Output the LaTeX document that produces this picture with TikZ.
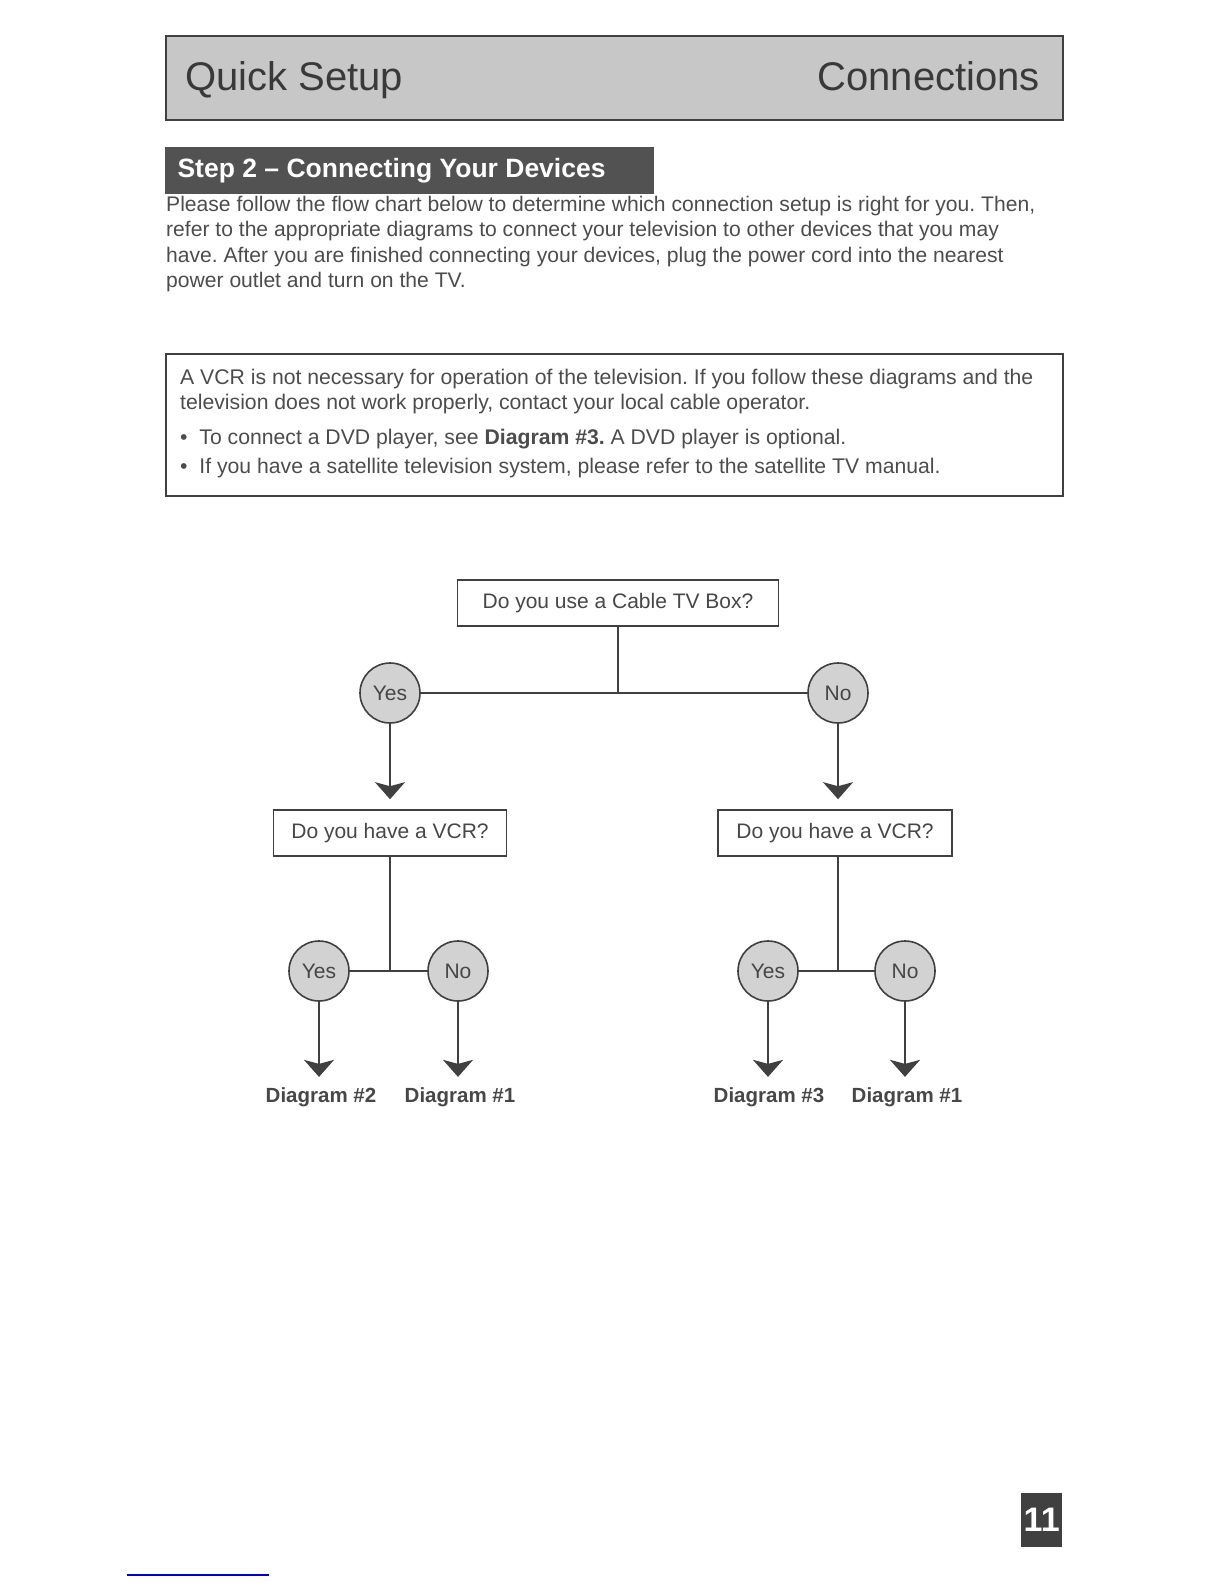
\documentclass[tikz,border=0pt]{standalone}
\usepackage{fontspec}
\setmainfont{Liberation Sans}
\usepackage{xcolor}
\usetikzlibrary{positioning, calc, arrows.meta}
\definecolor{inkgray}{gray}{0.25}
\definecolor{bargray}{gray}{0.78}
\definecolor{dimgray}{gray}{0.35}
\frenchspacing
\begin{document}
\begin{tikzpicture}[x=1pt,y=-1pt,>=Stealth,
    qbox/.style={draw=inkgray, line width=1.6pt, fill=white, minimum height=46pt,
        inner xsep=0pt, font=\fontsize{21}{24}\selectfont, text=black!72},
    answer/.style={circle, draw=inkgray, line width=1.6pt, fill=gray!35, minimum size=60pt,
        inner sep=0pt, font=\fontsize{21}{22}\selectfont, text=gray!55!black},
    link/.style={draw=inkgray, line width=2pt},
    down/.style={link, -{Stealth[width=30pt,length=17pt,inset=4pt]}},
    result/.style={font=\bfseries\fontsize{20.5}{24}\selectfont, text=black!72},
    notetext/.style={anchor=base west, inner sep=0pt, font=\fontsize{21.2}{24}\selectfont, text=black!70}]

    \useasboundingbox (0,0) rectangle (1224,1584);

    % --- Page Header ---
    \node[draw=inkgray, line width=2pt, fill=bargray, minimum width=897pt, minimum height=84pt,
          anchor=north west, inner sep=0pt] (header) at (165,35) {};
    \node[anchor=base west, inner sep=0pt, font=\fontsize{40}{44}\selectfont, text=gray!45!black]
        (title) at (185,91) {Quick Setup};
    \node[anchor=base east, inner sep=0pt, font=\fontsize{40}{44}\selectfont, text=gray!45!black]
        (section) at (1040,91) {Connections};

    % --- Step Banner ---
    \node[fill=black!68, minimum width=489pt, minimum height=47pt, anchor=north west, inner sep=0pt] (step) at (165,147) {};
    \node[right=9pt of step.west, font=\bfseries\fontsize{26.5}{30}\selectfont, text=white] (steptext)
        {Step 2 -- Connecting Your Devices};

    % --- Introduction ---
    \node[anchor=north west, inner sep=0pt, align=left, text=black!70,
          font=\fontsize{21.1}{25.5}\selectfont] (intro) at (166,196)
        {Please follow the flow chart below to determine which connection setup is right for you. Then,\\
         refer to the appropriate diagrams to connect your television to other devices that you may\\
         have. After you are finished connecting your devices, plug the power cord into the nearest\\
         power outlet and turn on the TV.};

    % --- Note Box ---
    \node[draw=inkgray, line width=2pt, minimum width=897pt, minimum height=142pt,
          anchor=north west, inner sep=0pt] (note) at (165,353) {};
    \node[notetext] (note1) at (180,384) {A VCR is not necessary for operation of the television. If you follow these diagrams and the};
    \node[notetext] (note2) at (180,409) {television does not work properly, contact your local cable operator.};
    \node[notetext] (note3) at (180,444) {\textbullet\ \ To connect a DVD player, see \textbf{Diagram \#3.} A DVD player is optional.};
    \node[notetext] (note4) at (180,473) {\textbullet\ \ If you have a satellite television system, please refer to the satellite TV manual.};

    % --- Flow Chart: first question ---
    \node[qbox, minimum width=321pt] (cable) at (618,603) {Do you use a Cable TV Box?};
    \node[answer] (yesA) at (390,693) {Yes};
    \node[answer] (noA) at (838,693) {No};
    \draw[link] (cable.south) -- (cable.south |- yesA);
    \draw[link] (yesA) -- (noA);

    % --- Flow Chart: VCR questions ---
    \node[qbox, minimum width=233pt] (vcrL) at (390,833) {Do you have a VCR?};
    \node[qbox, minimum width=234pt] (vcrR) at (835,833) {Do you have a VCR?};
    \draw[down, shorten >=10pt] (yesA) -- (yesA |- vcrL.north);
    \draw[down, shorten >=10pt] (noA) -- (noA |- vcrR.north);

    % --- Left branch: answers ---
    \node[answer] (yesB) at (319,971) {Yes};
    \node[answer] (noB) at (458,971) {No};
    \draw[link] (vcrL.south) -- (vcrL.south |- yesB);
    \draw[link] (yesB) -- (noB);

    % --- Right branch: answers ---
    \node[answer] (yesC) at (768,971) {Yes};
    \node[answer] (noC) at (905,971) {No};
    \draw[link] (vcrR.south -| noA) -- (noA |- yesC);
    \draw[link] (yesC) -- (noC);

    % --- Results ---
    \node[result] (diagTwo) at (321,1097) {Diagram \#2};
    \node[result] (diagOneL) at (460,1097) {Diagram \#1};
    \node[result] (diagThree) at (769,1097) {Diagram \#3};
    \node[result] (diagOneR) at (907,1097) {Diagram \#1};
    \draw[down, shorten >=7pt] (yesB) -- (yesB |- diagTwo.north);
    \draw[down, shorten >=7pt] (noB) -- (noB |- diagOneL.north);
    \draw[down, shorten >=7pt] (yesC) -- (yesC |- diagThree.north);
    \draw[down, shorten >=7pt] (noC) -- (noC |- diagOneR.north);

    % --- Page Number ---
    \node[fill=black!75, minimum width=41pt, minimum height=54pt, anchor=north west, inner sep=0pt,
          font=\bfseries\fontsize{34}{40}\selectfont, text=white] (page) at (1021,1493) {11};

    % --- Footnote rule ---
    \draw[blue!80!black, line width=1.5pt] (127,1575) -- (269,1575);

\end{tikzpicture}
\end{document}
